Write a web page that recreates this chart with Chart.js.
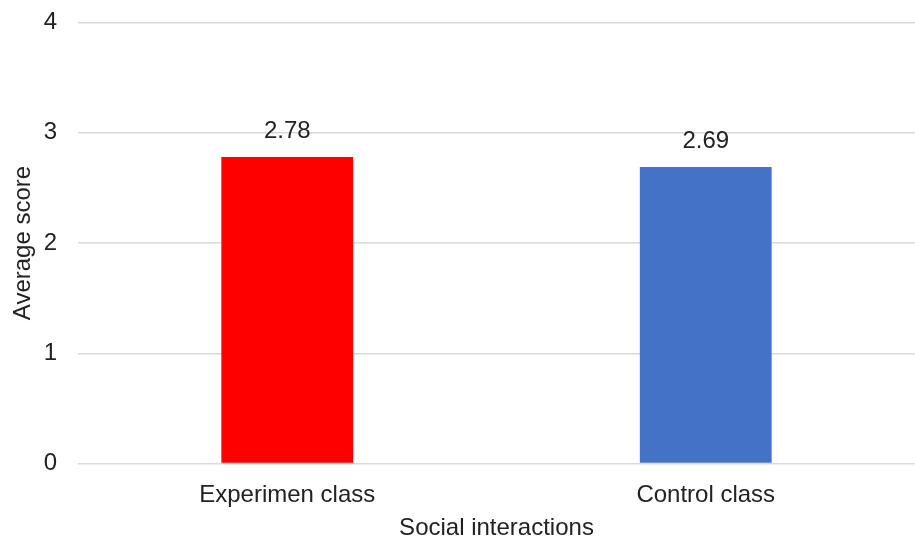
<!DOCTYPE html>
<html>
<head>
<meta charset="utf-8">
<script src="https://cdn.jsdelivr.net/npm/chart.js@4/dist/chart.umd.min.js"></script>
<style>
  html, body { margin: 0; padding: 0; background: #ffffff; }
  #wrap { width: 915px; height: 539px; position: relative; }
</style>
</head>
<body>
<div id="wrap"><canvas id="chart"></canvas></div>
<script>
// Average social-interaction scores per class
const categories = ['Experimen class', 'Control class'];
const scores = [2.78, 2.69];
const barColors = ['#FF0000', '#4472C4'];
const yTicks = [0, 1, 2, 3, 4];

const FONT = "'Liberation Sans', Arial, sans-serif";
const TEXT = '#222222';

// Writes each bar's value just above it
const valueLabels = {
  id: 'valueLabels',
  afterDatasetsDraw(chart) {
    const ctx = chart.ctx;
    const meta = chart.getDatasetMeta(0);
    ctx.save();
    ctx.font = '24px ' + FONT;
    ctx.fillStyle = TEXT;
    ctx.textAlign = 'center';
    ctx.textBaseline = 'middle';
    meta.data.forEach((bar, i) => {
      ctx.fillText(scores[i].toFixed(2), bar.x, bar.y - 25.5);
    });
    ctx.restore();
  }
};

new Chart(document.getElementById('chart'), {
  type: 'bar',
  data: {
    labels: categories,
    datasets: [{
      data: scores,
      backgroundColor: barColors,
      borderWidth: 0,
      categoryPercentage: 1,
      barPercentage: 0.315
    }]
  },
  options: {
    responsive: true,
    maintainAspectRatio: false,
    animation: false,
    devicePixelRatio: 1,
    layout: { padding: { top: 22.5, right: 0, bottom: 0, left: 0 } },
    plugins: {
      legend: { display: false },
      tooltip: { enabled: false }
    },
    scales: {
      x: {
        grid: { display: false, drawTicks: false },
        border: { display: false },
        ticks: {
          color: TEXT,
          font: { family: FONT, size: 24 },
          padding: 17,
          maxRotation: 0
        },
        title: {
          display: true,
          text: 'Social interactions',
          color: TEXT,
          font: { family: FONT, size: 24, lineHeight: 0.9 },
          padding: { top: 0, bottom: 0 }
        },
        afterFit(scale) { scale.height = 75.5; }
      },
      y: {
        min: 0,
        max: 4,
        afterBuildTicks(scale) { scale.ticks = yTicks.map(v => ({ value: v })); },
        grid: { color: '#d9d9d9', lineWidth: 1.5, drawTicks: false },
        border: { display: false },
        ticks: {
          color: TEXT,
          font: { family: FONT, size: 24 },
          padding: 21
        },
        title: {
          display: true,
          text: 'Average score',
          color: TEXT,
          font: { family: FONT, size: 24, lineHeight: 1.2 },
          padding: { top: 9, bottom: 0 }
        },
        afterFit(scale) {
          scale.width = 78;
          scale.paddingTop = 0;
          scale.paddingBottom = 0;
        }
      }
    }
  },
  plugins: [valueLabels]
});
</script>
</body>
</html>
